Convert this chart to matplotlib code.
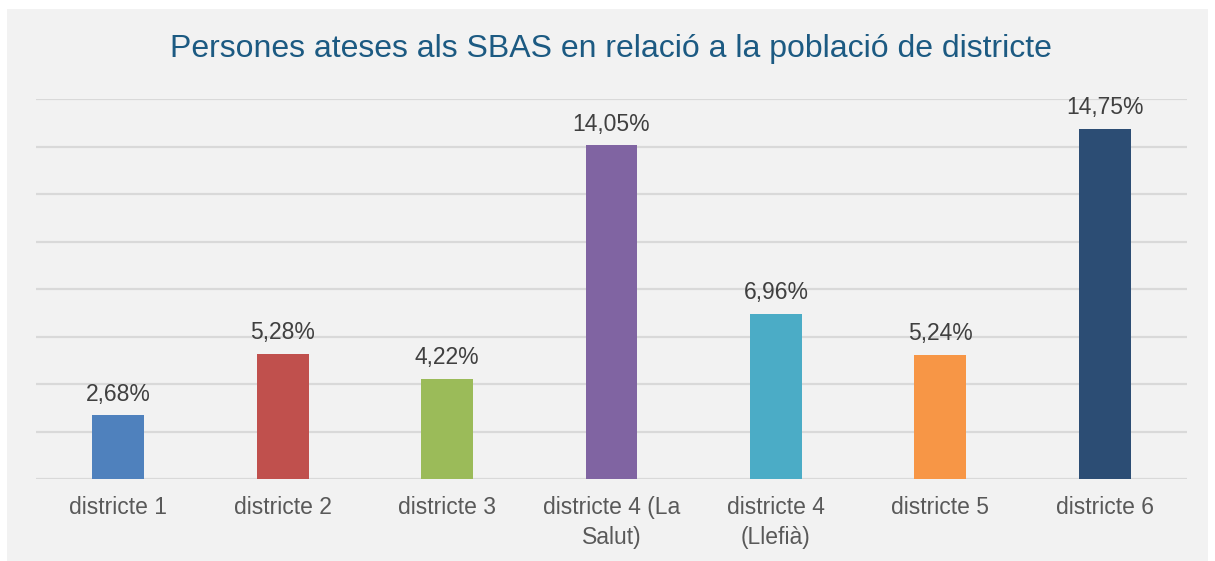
import matplotlib.pyplot as plt
from matplotlib.patches import Rectangle

# data
districtes = ["districte 1", "districte 2", "districte 3", "districte 4 (La\nSalut)",
              "districte 4\n(Llefià)", "districte 5", "districte 6"]
percentatges = [2.68, 5.28, 4.22, 14.05, 6.96, 5.24, 14.75]
etiquetes = ["2,68%", "5,28%", "4,22%", "14,05%", "6,96%", "5,24%", "14,75%"]
colors = ["#4f81bd", "#c0504d", "#9bbb59", "#8064a2", "#4bacc6", "#f79646", "#2c4d74"]

plt.rcParams["font.family"] = ["Liberation Sans", "DejaVu Sans"]

W, H = 1215, 561
fig = plt.figure(figsize=(W / 100, H / 100), dpi=100, facecolor="white")

# grey panel behind the chart
fig.patches.append(Rectangle((7 / W, 0), (1208 - 7) / W, (561 - 9) / H,
                             transform=fig.transFigure, facecolor="#f2f2f2",
                             edgecolor="none", zorder=-10))

ax = fig.add_axes([36 / W, 1 - 479 / H, (1187 - 36) / W, (479 - 99) / H])
ax.set_facecolor("none")
ax.set_zorder(1)

x = range(len(districtes))
bars = ax.bar(x, percentatges, width=0.316, color=colors, zorder=3)

for b, txt in zip(bars, etiquetes):
    ax.annotate(txt, (b.get_x() + b.get_width() / 2, b.get_height()),
                xytext=(0, 7), textcoords="offset points",
                ha="center", va="bottom", fontsize=16.5, color="#404040")

ax.set_xlim(-0.5, len(districtes) - 0.5)
ax.set_ylim(0, 16)
ax.set_yticks(range(0, 17, 2))
ax.set_yticklabels([])
ax.tick_params(axis="y", length=0)
ax.grid(axis="y", color="#d9d9d9", linewidth=1.6, zorder=0)

ax.set_xticks(list(x))
ax.set_xticklabels(districtes, fontsize=16.5, color="#595959", linespacing=1.4)
ax.tick_params(axis="x", length=0, pad=12)

for s in ax.spines.values():
    s.set_visible(False)

fig.text(611 / W, 1 - 49 / H, "Persones ateses als SBAS en relació a la població de districte",
         ha="center", va="center", fontsize=23, color="#1c5a82", zorder=2)

fig.savefig("out.png", dpi=100, facecolor="white")
